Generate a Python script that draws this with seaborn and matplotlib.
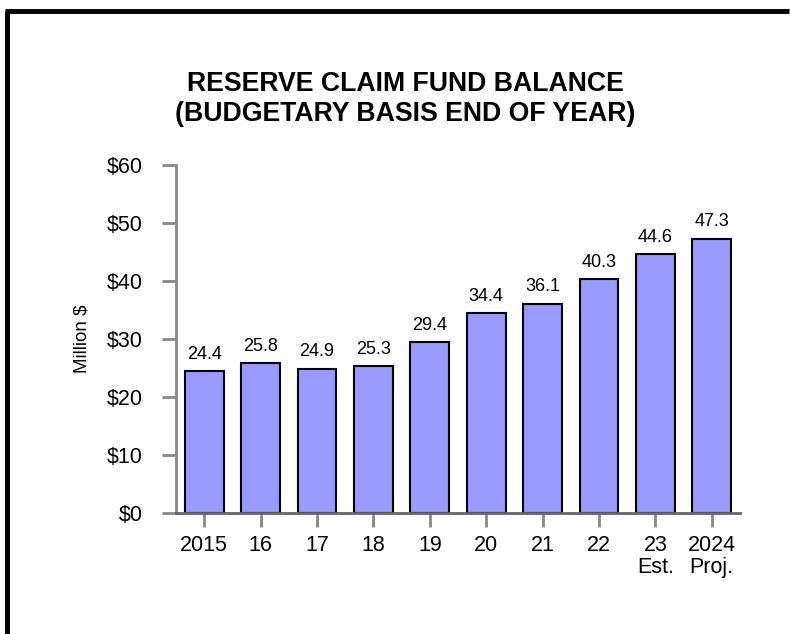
import matplotlib
matplotlib.use("Agg")
import matplotlib.pyplot as plt
import seaborn as sns
import pandas as pd
from matplotlib.lines import Line2D

years = ["2015", "16", "17", "18", "19", "20", "21", "22", "23\nEst.", "2024\nProj."]
values = [24.4, 25.8, 24.9, 25.3, 29.4, 34.4, 36.1, 40.3, 44.6, 47.3]
yticks = [0, 10, 20, 30, 40, 50, 60]
ytick_labels = ["$0", "$10", "$20", "$30", "$40", "$50", "$60"]
title = "RESERVE CLAIM FUND BALANCE\n(BUDGETARY BASIS END OF YEAR)"

sns.set_theme(style="white")
plt.rcParams['font.family'] = ['Liberation Sans', 'DejaVu Sans']
plt.rcParams['text.color'] = 'black'
plt.rcParams['xtick.color'] = 'black'
plt.rcParams['ytick.color'] = 'black'
plt.rcParams['axes.labelcolor'] = 'black'

df = pd.DataFrame({"year": years, "value": values})

fig = plt.figure(figsize=(7.9, 6.34), dpi=100)
ax = fig.add_axes([176/790, 121/634, (740-176)/790, (513-165)/634])

sns.barplot(data=df, x="year", y="value", ax=ax, color="#9999FF",
            saturation=1, width=0.69, edgecolor="black", linewidth=1.5)

for i, v in enumerate(values):
    ax.annotate(f"{v:.1f}", (i, v), xytext=(0, 6), textcoords="offset points",
                ha="center", va="bottom", fontsize=13, color="black")

ax.set_xlim(-0.5, 9.5)
ax.set_ylim(0, 60)
ax.set_yticks(yticks)
ax.set_yticklabels(ytick_labels, fontsize=15.5)
ax.set_xticks(range(len(years)))
ax.set_xticklabels(years, fontsize=15.5, linespacing=1.05)
ax.set_xlabel("")
ax.set_ylabel("Million $", fontsize=13.5, labelpad=12)

for s in ["top", "right"]:
    ax.spines[s].set_visible(False)
ax.spines["left"].set_color("#888888")
ax.spines["left"].set_linewidth(2)
ax.spines["bottom"].set_color("#666666")
ax.spines["bottom"].set_linewidth(2)
ax.tick_params(axis="both", which="both", length=10, width=2, color="#888888",
               bottom=True, left=True, direction="out")
ax.tick_params(axis="x", pad=6)
ax.tick_params(axis="y", pad=14)
for lab in ax.get_xticklabels() + ax.get_yticklabels():
    lab.set_color("black")

fig.text(405/790, 1 - 99/634, title, ha="center", va="center", fontsize=19.2,
         fontweight="bold", linespacing=1.2, color="black")

# figure border (left and top visible)
fig.add_artist(Line2D([7/790, 7/790], [0, 1 - 11/634], transform=fig.transFigure,
                      color="black", linewidth=3.5, solid_capstyle="butt"))
fig.add_artist(Line2D([5.25/790, 0.999], [1 - 11/634, 1 - 11/634], transform=fig.transFigure,
                      color="black", linewidth=3.5, solid_capstyle="butt"))

fig.savefig("out.png", dpi=100)
